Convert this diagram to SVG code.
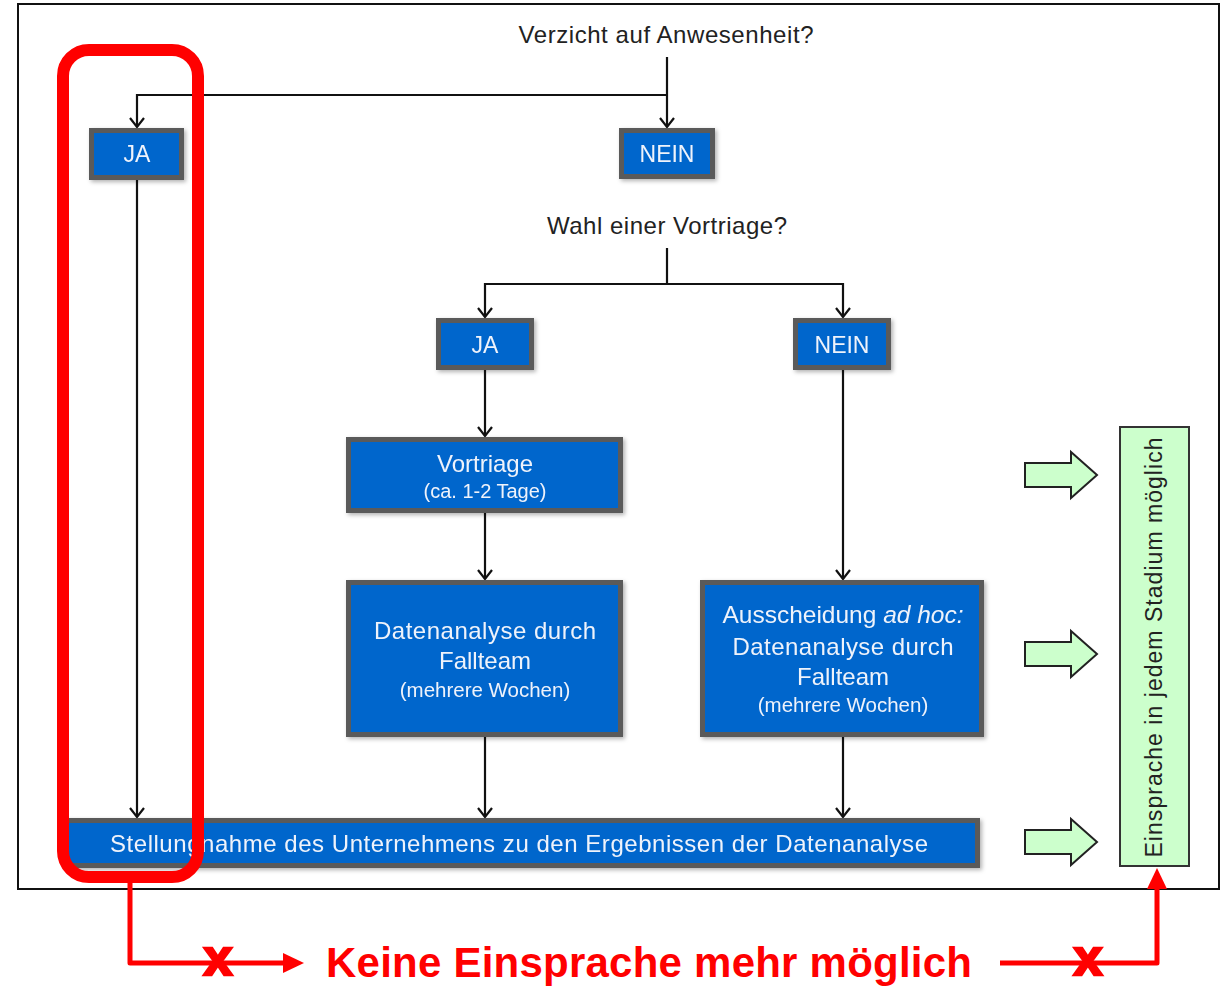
<svg xmlns="http://www.w3.org/2000/svg" width="1228" height="987" viewBox="0 0 1228 987">
<style>
.box{fill:#0566cc;stroke:#5a5a5a;stroke-width:5}
.bt{font-family:"Liberation Sans",Arial,sans-serif;fill:#eef3fb;text-anchor:middle}
.q{font-family:"Liberation Sans",Arial,sans-serif;fill:#222;font-size:24px;text-anchor:middle}
.ln{fill:none;stroke:#111;stroke-width:2.2}
.red{fill:none;stroke:#ff0000;stroke-width:5;stroke-linejoin:round}
.garrow{fill:#ccffcc;stroke:#222;stroke-width:2;stroke-linejoin:miter}
.xm{font-family:"Liberation Sans",Arial,sans-serif;font-weight:bold;font-size:52px;fill:#ff0000;stroke:#ff0000;stroke-width:2.5;text-anchor:middle}
</style>
<defs>
<marker id="ah" markerUnits="userSpaceOnUse" markerWidth="18" markerHeight="18" viewBox="0 0 18 18" refX="16" refY="9" orient="auto">
<path d="M7,2 L16,9 L7,16" fill="none" stroke="#111" stroke-width="2.2"/>
</marker>
<marker id="rh" markerUnits="userSpaceOnUse" markerWidth="22" markerHeight="22" viewBox="0 0 22 22" refX="1" refY="11" orient="auto">
<path d="M0,1 L21,11 L0,21 Z" fill="#ff0000"/>
</marker>
<filter id="sh" x="-10%" y="-10%" width="130%" height="140%">
<feDropShadow dx="2" dy="2" stdDeviation="2" flood-color="#000" flood-opacity="0.3"/>
</filter>
<path id="ga" d="M0,-12 H46 V-23 L72,0 L46,23 V12 H0 Z"/>
</defs>

<rect x="18" y="4" width="1201" height="885" fill="#fff" stroke="#111" stroke-width="2"/>

<g id="q1"><text class="q" x="666" y="43" textLength="295" lengthAdjust="spacing">Verzicht auf Anwesenheit?</text></g>
<g id="q2"><text class="q" x="667" y="234" textLength="240" lengthAdjust="spacing">Wahl einer Vortriage?</text></g>

<g id="connectors">
<path class="ln" d="M667,57 V127" marker-end="url(#ah)"/>
<path class="ln" d="M667,95 H137 V127" marker-end="url(#ah)"/>
<path class="ln" d="M137,180 V817" marker-end="url(#ah)"/>
<path class="ln" d="M667,248 V284"/>
<path class="ln" d="M667,284 H485 V317" marker-end="url(#ah)"/>
<path class="ln" d="M667,284 H843 V317" marker-end="url(#ah)"/>
<path class="ln" d="M485,370 V436" marker-end="url(#ah)"/>
<path class="ln" d="M485,513 V579" marker-end="url(#ah)"/>
<path class="ln" d="M485,737 V817" marker-end="url(#ah)"/>
<path class="ln" d="M843,370 V579" marker-end="url(#ah)"/>
<path class="ln" d="M843,737 V817" marker-end="url(#ah)"/>
</g>

<g id="ja1" filter="url(#sh)"><rect class="box" x="91.5" y="130.5" width="90" height="47"/><text class="bt" x="137" y="162" font-size="23">JA</text></g>
<g id="nein1" filter="url(#sh)"><rect class="box" x="621.5" y="130.5" width="91" height="46"/><text class="bt" x="667" y="162" font-size="23">NEIN</text></g>
<g id="ja2" filter="url(#sh)"><rect class="box" x="438.5" y="320.5" width="93" height="47"/><text class="bt" x="485" y="353" font-size="23">JA</text></g>
<g id="nein2" filter="url(#sh)"><rect class="box" x="795.5" y="320.5" width="93" height="47"/><text class="bt" x="842" y="353" font-size="23">NEIN</text></g>
<g id="vortriage" filter="url(#sh)"><rect class="box" x="348.5" y="439.5" width="272" height="71"/>
<text class="bt" x="485" y="472" font-size="24">Vortriage</text>
<text class="bt" x="485" y="498" font-size="20">(ca. 1-2 Tage)</text></g>
<g id="datenanalyse" filter="url(#sh)"><rect class="box" x="348.5" y="582.5" width="272" height="152"/>
<text class="bt" x="485" y="639" font-size="24" textLength="222" lengthAdjust="spacing">Datenanalyse durch</text>
<text class="bt" x="485" y="669" font-size="24">Fallteam</text>
<text class="bt" x="485" y="697" font-size="20.5">(mehrere Wochen)</text></g>
<g id="ausscheidung" filter="url(#sh)"><rect class="box" x="702.5" y="582.5" width="279" height="152"/>
<text class="bt" x="843" y="623" font-size="24.5">Ausscheidung <tspan font-style="italic">ad hoc:</tspan></text>
<text class="bt" x="843" y="655" font-size="24" textLength="221" lengthAdjust="spacing">Datenanalyse durch</text>
<text class="bt" x="843" y="685" font-size="24">Fallteam</text>
<text class="bt" x="843" y="712" font-size="20.5">(mehrere Wochen)</text></g>
<g id="stellungnahme" filter="url(#sh)"><rect class="box" x="66.5" y="820.5" width="911" height="45"/>
<text class="bt" x="519" y="852" font-size="24" textLength="818" lengthAdjust="spacing">Stellungnahme des Unternehmens zu den Ergebnissen der Datenanalyse</text></g>

<g id="green-arrows">
<use href="#ga" class="garrow" transform="translate(1025,475)"/>
<use href="#ga" class="garrow" transform="translate(1025,654)"/>
<use href="#ga" class="garrow" transform="translate(1025,842)"/>
</g>
<g id="einsprache"><rect x="1120" y="427" width="69" height="439" fill="#ccffcc" stroke="#333" stroke-width="2"/>
<text transform="translate(1162,647.5) rotate(-90)" x="0" y="0" font-family="'Liberation Sans',Arial,sans-serif" font-size="23" fill="#222" text-anchor="middle" textLength="420" lengthAdjust="spacing">Einsprache in jedem Stadium möglich</text></g>

<g id="highlight"><rect x="63" y="50" width="135" height="827" rx="26" ry="26" fill="none" stroke="#ff0000" stroke-width="12"/></g>

<g id="red-connectors">
<path class="red" d="M130,883 V963 H284" marker-end="url(#rh)"/>
<path class="red" d="M1000,963 H1157 V888" marker-end="url(#rh)"/>
<text class="xm" x="218" y="975">x</text>
<text class="xm" x="1088" y="975">x</text>
</g>
<g id="keine"><text x="326" y="977" font-family="'Liberation Sans',Arial,sans-serif" font-weight="bold" font-size="42" fill="#ff0000" textLength="646" lengthAdjust="spacing">Keine Einsprache mehr möglich</text></g>
</svg>
